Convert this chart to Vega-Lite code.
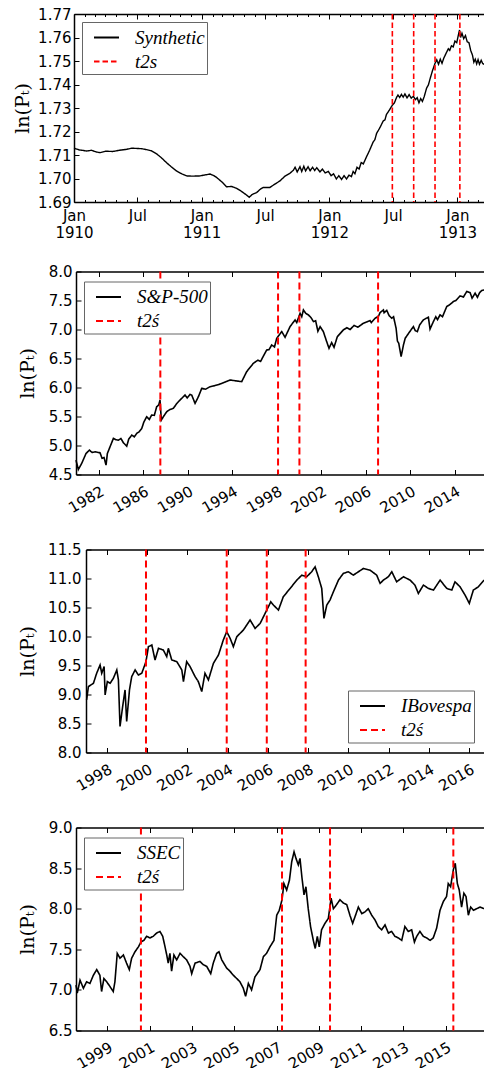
{
  "$schema": "https://vega.github.io/schema/vega-lite/v6.json",
  "padding": {"left": 13, "top": 7, "right": 0, "bottom": 0},
  "spacing": 24.5,
  "resolve": {"scale": {"color": "independent", "strokeDash": "independent", "x": "independent", "y": "independent"}, "legend": {"color": "independent", "strokeDash": "independent"}},
  "config": {
    "view": {"stroke": null},
    "font": "DejaVu Sans",
    "axis": {"domainColor": "black", "domainWidth": 1.5, "tickColor": "black", "tickWidth": 1, "labelFont": "DejaVu Sans", "labelFontSize": 15, "labelColor": "black", "grid": false, "titleFont": "DejaVu Serif", "titleFontSize": 19, "titleFontWeight": "normal", "titleColor": "black", "labelFlush": false, "labelOverlap": false},
    "legend": {"strokeColor": "#666666", "fillColor": "white", "padding": 2, "symbolOffset": 9, "symbolType": "stroke", "symbolSize": 625, "symbolStrokeWidth": 2, "labelFont": "Liberation Serif", "labelFontStyle": "italic", "labelFontSize": 19, "labelColor": "black", "labelOffset": 15, "rowPadding": 0, "cornerRadius": 0}
  },
  "vconcat": [
    {
      "width": 410, "height": 188,
      "resolve": {"axis": {"x": "independent"}},
      "layer": [
        {
          "data": {"values": [
            {"date": "1910-01-01", "v": 1.7129, "series": "Synthetic"},
            {"date": "1910-01-15", "v": 1.7122, "series": "Synthetic"},
            {"date": "1910-02-06", "v": 1.7117, "series": "Synthetic"},
            {"date": "1910-02-20", "v": 1.7120, "series": "Synthetic"},
            {"date": "1910-03-05", "v": 1.7113, "series": "Synthetic"},
            {"date": "1910-03-16", "v": 1.7110, "series": "Synthetic"},
            {"date": "1910-04-01", "v": 1.7116, "series": "Synthetic"},
            {"date": "1910-04-22", "v": 1.7115, "series": "Synthetic"},
            {"date": "1910-05-10", "v": 1.7120, "series": "Synthetic"},
            {"date": "1910-05-31", "v": 1.7124, "series": "Synthetic"},
            {"date": "1910-06-15", "v": 1.7129, "series": "Synthetic"},
            {"date": "1910-06-29", "v": 1.7128, "series": "Synthetic"},
            {"date": "1910-07-12", "v": 1.7127, "series": "Synthetic"},
            {"date": "1910-07-27", "v": 1.7123, "series": "Synthetic"},
            {"date": "1910-08-10", "v": 1.7118, "series": "Synthetic"},
            {"date": "1910-08-25", "v": 1.7105, "series": "Synthetic"},
            {"date": "1910-09-08", "v": 1.7088, "series": "Synthetic"},
            {"date": "1910-09-22", "v": 1.7068, "series": "Synthetic"},
            {"date": "1910-10-06", "v": 1.7050, "series": "Synthetic"},
            {"date": "1910-10-21", "v": 1.7032, "series": "Synthetic"},
            {"date": "1910-11-05", "v": 1.7020, "series": "Synthetic"},
            {"date": "1910-11-19", "v": 1.7011, "series": "Synthetic"},
            {"date": "1910-12-05", "v": 1.7010, "series": "Synthetic"},
            {"date": "1910-12-27", "v": 1.7011, "series": "Synthetic"},
            {"date": "1911-01-10", "v": 1.7015, "series": "Synthetic"},
            {"date": "1911-01-25", "v": 1.7019, "series": "Synthetic"},
            {"date": "1911-02-05", "v": 1.7012, "series": "Synthetic"},
            {"date": "1911-02-13", "v": 1.7004, "series": "Synthetic"},
            {"date": "1911-02-28", "v": 1.6985, "series": "Synthetic"},
            {"date": "1911-03-13", "v": 1.6965, "series": "Synthetic"},
            {"date": "1911-03-28", "v": 1.6966, "series": "Synthetic"},
            {"date": "1911-04-11", "v": 1.6958, "series": "Synthetic"},
            {"date": "1911-04-25", "v": 1.6945, "series": "Synthetic"},
            {"date": "1911-05-09", "v": 1.6930, "series": "Synthetic"},
            {"date": "1911-05-17", "v": 1.6920, "series": "Synthetic"},
            {"date": "1911-05-25", "v": 1.6932, "series": "Synthetic"},
            {"date": "1911-06-07", "v": 1.6940, "series": "Synthetic"},
            {"date": "1911-06-18", "v": 1.6955, "series": "Synthetic"},
            {"date": "1911-06-26", "v": 1.6962, "series": "Synthetic"},
            {"date": "1911-07-15", "v": 1.6962, "series": "Synthetic"},
            {"date": "1911-07-28", "v": 1.6975, "series": "Synthetic"},
            {"date": "1911-08-13", "v": 1.6990, "series": "Synthetic"},
            {"date": "1911-08-27", "v": 1.7010, "series": "Synthetic"},
            {"date": "1911-09-10", "v": 1.7022, "series": "Synthetic"},
            {"date": "1911-09-20", "v": 1.7035, "series": "Synthetic"},
            {"date": "1911-09-25", "v": 1.7048, "series": "Synthetic"},
            {"date": "1911-10-01", "v": 1.7028, "series": "Synthetic"},
            {"date": "1911-10-09", "v": 1.7050, "series": "Synthetic"},
            {"date": "1911-10-14", "v": 1.7030, "series": "Synthetic"},
            {"date": "1911-10-20", "v": 1.7052, "series": "Synthetic"},
            {"date": "1911-10-25", "v": 1.7032, "series": "Synthetic"},
            {"date": "1911-11-01", "v": 1.7050, "series": "Synthetic"},
            {"date": "1911-11-07", "v": 1.7033, "series": "Synthetic"},
            {"date": "1911-11-14", "v": 1.7048, "series": "Synthetic"},
            {"date": "1911-11-20", "v": 1.7034, "series": "Synthetic"},
            {"date": "1911-11-26", "v": 1.7046, "series": "Synthetic"},
            {"date": "1911-12-05", "v": 1.7028, "series": "Synthetic"},
            {"date": "1911-12-12", "v": 1.7040, "series": "Synthetic"},
            {"date": "1911-12-20", "v": 1.7024, "series": "Synthetic"},
            {"date": "1911-12-29", "v": 1.7030, "series": "Synthetic"},
            {"date": "1912-01-06", "v": 1.7012, "series": "Synthetic"},
            {"date": "1912-01-13", "v": 1.7020, "series": "Synthetic"},
            {"date": "1912-01-21", "v": 1.6998, "series": "Synthetic"},
            {"date": "1912-01-28", "v": 1.7012, "series": "Synthetic"},
            {"date": "1912-02-05", "v": 1.6996, "series": "Synthetic"},
            {"date": "1912-02-12", "v": 1.7012, "series": "Synthetic"},
            {"date": "1912-02-19", "v": 1.6998, "series": "Synthetic"},
            {"date": "1912-02-26", "v": 1.7014, "series": "Synthetic"},
            {"date": "1912-03-04", "v": 1.7008, "series": "Synthetic"},
            {"date": "1912-03-09", "v": 1.7030, "series": "Synthetic"},
            {"date": "1912-03-14", "v": 1.7020, "series": "Synthetic"},
            {"date": "1912-03-20", "v": 1.7048, "series": "Synthetic"},
            {"date": "1912-03-26", "v": 1.7040, "series": "Synthetic"},
            {"date": "1912-04-01", "v": 1.7068, "series": "Synthetic"},
            {"date": "1912-04-07", "v": 1.7062, "series": "Synthetic"},
            {"date": "1912-04-16", "v": 1.7092, "series": "Synthetic"},
            {"date": "1912-04-25", "v": 1.7120, "series": "Synthetic"},
            {"date": "1912-05-05", "v": 1.7155, "series": "Synthetic"},
            {"date": "1912-05-10", "v": 1.7165, "series": "Synthetic"},
            {"date": "1912-05-15", "v": 1.7192, "series": "Synthetic"},
            {"date": "1912-05-24", "v": 1.7215, "series": "Synthetic"},
            {"date": "1912-06-03", "v": 1.7245, "series": "Synthetic"},
            {"date": "1912-06-08", "v": 1.7250, "series": "Synthetic"},
            {"date": "1912-06-12", "v": 1.7272, "series": "Synthetic"},
            {"date": "1912-06-20", "v": 1.7290, "series": "Synthetic"},
            {"date": "1912-06-29", "v": 1.7312, "series": "Synthetic"},
            {"date": "1912-07-05", "v": 1.7322, "series": "Synthetic"},
            {"date": "1912-07-11", "v": 1.7345, "series": "Synthetic"},
            {"date": "1912-07-15", "v": 1.7355, "series": "Synthetic"},
            {"date": "1912-07-20", "v": 1.7345, "series": "Synthetic"},
            {"date": "1912-07-25", "v": 1.7358, "series": "Synthetic"},
            {"date": "1912-07-30", "v": 1.7346, "series": "Synthetic"},
            {"date": "1912-08-04", "v": 1.7360, "series": "Synthetic"},
            {"date": "1912-08-10", "v": 1.7343, "series": "Synthetic"},
            {"date": "1912-08-16", "v": 1.7357, "series": "Synthetic"},
            {"date": "1912-08-22", "v": 1.7342, "series": "Synthetic"},
            {"date": "1912-08-28", "v": 1.7350, "series": "Synthetic"},
            {"date": "1912-09-03", "v": 1.7336, "series": "Synthetic"},
            {"date": "1912-09-08", "v": 1.7344, "series": "Synthetic"},
            {"date": "1912-09-13", "v": 1.7322, "series": "Synthetic"},
            {"date": "1912-09-18", "v": 1.7340, "series": "Synthetic"},
            {"date": "1912-09-23", "v": 1.7328, "series": "Synthetic"},
            {"date": "1912-09-28", "v": 1.7348, "series": "Synthetic"},
            {"date": "1912-10-05", "v": 1.7385, "series": "Synthetic"},
            {"date": "1912-10-10", "v": 1.7398, "series": "Synthetic"},
            {"date": "1912-10-15", "v": 1.7425, "series": "Synthetic"},
            {"date": "1912-10-22", "v": 1.7460, "series": "Synthetic"},
            {"date": "1912-10-29", "v": 1.7490, "series": "Synthetic"},
            {"date": "1912-11-03", "v": 1.7505, "series": "Synthetic"},
            {"date": "1912-11-08", "v": 1.7486, "series": "Synthetic"},
            {"date": "1912-11-13", "v": 1.7508, "series": "Synthetic"},
            {"date": "1912-11-18", "v": 1.7490, "series": "Synthetic"},
            {"date": "1912-11-23", "v": 1.7512, "series": "Synthetic"},
            {"date": "1912-12-01", "v": 1.7537, "series": "Synthetic"},
            {"date": "1912-12-06", "v": 1.7552, "series": "Synthetic"},
            {"date": "1912-12-10", "v": 1.7545, "series": "Synthetic"},
            {"date": "1912-12-15", "v": 1.7565, "series": "Synthetic"},
            {"date": "1912-12-20", "v": 1.7560, "series": "Synthetic"},
            {"date": "1912-12-25", "v": 1.7585, "series": "Synthetic"},
            {"date": "1912-12-30", "v": 1.7578, "series": "Synthetic"},
            {"date": "1913-01-04", "v": 1.7612, "series": "Synthetic"},
            {"date": "1913-01-07", "v": 1.7632, "series": "Synthetic"},
            {"date": "1913-01-10", "v": 1.7600, "series": "Synthetic"},
            {"date": "1913-01-14", "v": 1.7618, "series": "Synthetic"},
            {"date": "1913-01-19", "v": 1.7595, "series": "Synthetic"},
            {"date": "1913-01-24", "v": 1.7608, "series": "Synthetic"},
            {"date": "1913-01-29", "v": 1.7582, "series": "Synthetic"},
            {"date": "1913-02-03", "v": 1.7578, "series": "Synthetic"},
            {"date": "1913-02-08", "v": 1.7545, "series": "Synthetic"},
            {"date": "1913-02-13", "v": 1.7525, "series": "Synthetic"},
            {"date": "1913-02-17", "v": 1.7495, "series": "Synthetic"},
            {"date": "1913-02-21", "v": 1.7508, "series": "Synthetic"},
            {"date": "1913-02-25", "v": 1.7488, "series": "Synthetic"},
            {"date": "1913-03-01", "v": 1.7506, "series": "Synthetic"},
            {"date": "1913-03-05", "v": 1.7486, "series": "Synthetic"},
            {"date": "1913-03-10", "v": 1.7503, "series": "Synthetic"},
            {"date": "1913-03-14", "v": 1.7490, "series": "Synthetic"},
            {"date": "1913-03-18", "v": 1.7485, "series": "Synthetic"}
          ]},
          "mark": {"type": "line", "strokeWidth": 1.4},
          "encoding": {
            "x": {"field": "date", "type": "temporal",
              "scale": {"type": "utc", "domain": [{"year": 1910, "month": 1, "date": 1, "utc": true}, {"year": 1913, "month": 3, "date": 18, "utc": true}]},
              "axis": {"orient": "bottom", "title": null, "tickCount": {"interval": "month", "step": 1},
                "tickSize": {"condition": {"test": "utcmonth(datum.value) % 6 == 0", "value": -5}, "value": -2.5},
                "labelPadding": 11, "labelLineHeight": 17, "labelAngle": 0, "labelAlign": "center", "labelBaseline": "top",
                "labelExpr": "utcmonth(datum.value) == 0 ? [utcFormat(datum.value, '%b'), utcFormat(datum.value, '%Y')] : (utcmonth(datum.value) == 6 ? ['Jul', ''] : '')"}},
            "y": {"field": "v", "type": "quantitative",
              "scale": {"domain": [1.69, 1.77], "nice": false, "zero": false},
              "axis": {"title": "ln(Pₜ)", "values": [1.69, 1.70, 1.71, 1.72, 1.73, 1.74, 1.75, 1.76, 1.77], "format": ".2f", "tickSize": -5, "labelPadding": 8, "minExtent": 40, "maxExtent": 40, "titlePadding": 2}},
            "color": {"field": "series", "type": "nominal", "scale": {"domain": ["Synthetic", "t2s"], "range": ["black", "red"]}, "legend": {"title": null, "orient": "top-left", "offset": 8}},
            "strokeDash": {"field": "series", "type": "nominal", "scale": {"domain": ["Synthetic", "t2s"], "range": [[1, 0], [5.5, 3]]}, "legend": {"title": null, "orient": "top-left", "offset": 8}}
          }
        },
        {
          "data": {"values": [
            {"date": "1912-06-29", "series": "t2s"},
            {"date": "1912-08-29", "series": "t2s"},
            {"date": "1912-10-29", "series": "t2s"},
            {"date": "1913-01-08", "series": "t2s"}
          ]},
          "mark": {"type": "rule", "strokeWidth": 1.6},
          "encoding": {
            "x": {"field": "date", "type": "temporal",
              "scale": {"type": "utc", "domain": [{"year": 1910, "month": 1, "date": 1, "utc": true}, {"year": 1913, "month": 3, "date": 18, "utc": true}]},
              "axis": {"orient": "top", "title": null, "labels": false, "tickCount": {"interval": "month", "step": 1},
                "tickSize": {"condition": {"test": "utcmonth(datum.value) % 6 == 0", "value": -5}, "value": -2.5}}},
            "color": {"field": "series", "type": "nominal", "scale": {"domain": ["Synthetic", "t2s"], "range": ["black", "red"]}, "legend": {"title": null, "orient": "top-left", "offset": 8}},
            "strokeDash": {"field": "series", "type": "nominal", "scale": {"domain": ["Synthetic", "t2s"], "range": [[1, 0], [5.5, 3]]}, "legend": {"title": null, "orient": "top-left", "offset": 8}}
          }
        }
      ]
    },
    {
      "spacing": 26,
      "resolve": {"scale": {"color": "independent", "strokeDash": "independent", "x": "independent", "y": "independent"}, "legend": {"color": "independent", "strokeDash": "independent"}},
      "vconcat": [
        {
          "width": 410, "height": 203,
          "resolve": {"axis": {"x": "independent"}},
          "layer": [
            {
              "data": {"values": [
                {"t": 1979.96, "v": 4.747, "series": "S&P-500"},
                {"t": 1980.17, "v": 4.586, "series": "S&P-500"},
                {"t": 1980.47, "v": 4.690, "series": "S&P-500"},
                {"t": 1980.86, "v": 4.862, "series": "S&P-500"},
                {"t": 1981.16, "v": 4.920, "series": "S&P-500"},
                {"t": 1981.40, "v": 4.880, "series": "S&P-500"},
                {"t": 1981.67, "v": 4.891, "series": "S&P-500"},
                {"t": 1982.12, "v": 4.874, "series": "S&P-500"},
                {"t": 1982.30, "v": 4.780, "series": "S&P-500"},
                {"t": 1982.48, "v": 4.793, "series": "S&P-500"},
                {"t": 1982.66, "v": 4.661, "series": "S&P-500"},
                {"t": 1982.78, "v": 4.862, "series": "S&P-500"},
                {"t": 1983.02, "v": 4.978, "series": "S&P-500"},
                {"t": 1983.32, "v": 5.122, "series": "S&P-500"},
                {"t": 1983.55, "v": 5.100, "series": "S&P-500"},
                {"t": 1983.77, "v": 5.093, "series": "S&P-500"},
                {"t": 1984.00, "v": 5.120, "series": "S&P-500"},
                {"t": 1984.22, "v": 5.047, "series": "S&P-500"},
                {"t": 1984.52, "v": 4.989, "series": "S&P-500"},
                {"t": 1984.70, "v": 5.110, "series": "S&P-500"},
                {"t": 1984.97, "v": 5.179, "series": "S&P-500"},
                {"t": 1985.20, "v": 5.150, "series": "S&P-500"},
                {"t": 1985.42, "v": 5.208, "series": "S&P-500"},
                {"t": 1985.65, "v": 5.240, "series": "S&P-500"},
                {"t": 1985.87, "v": 5.294, "series": "S&P-500"},
                {"t": 1986.05, "v": 5.400, "series": "S&P-500"},
                {"t": 1986.31, "v": 5.496, "series": "S&P-500"},
                {"t": 1986.55, "v": 5.450, "series": "S&P-500"},
                {"t": 1986.76, "v": 5.524, "series": "S&P-500"},
                {"t": 1987.00, "v": 5.520, "series": "S&P-500"},
                {"t": 1987.21, "v": 5.668, "series": "S&P-500"},
                {"t": 1987.40, "v": 5.700, "series": "S&P-500"},
                {"t": 1987.51, "v": 5.784, "series": "S&P-500"},
                {"t": 1987.63, "v": 5.438, "series": "S&P-500"},
                {"t": 1987.81, "v": 5.496, "series": "S&P-500"},
                {"t": 1988.11, "v": 5.582, "series": "S&P-500"},
                {"t": 1988.40, "v": 5.620, "series": "S&P-500"},
                {"t": 1988.71, "v": 5.640, "series": "S&P-500"},
                {"t": 1989.00, "v": 5.720, "series": "S&P-500"},
                {"t": 1989.31, "v": 5.784, "series": "S&P-500"},
                {"t": 1989.76, "v": 5.870, "series": "S&P-500"},
                {"t": 1989.95, "v": 5.820, "series": "S&P-500"},
                {"t": 1990.20, "v": 5.880, "series": "S&P-500"},
                {"t": 1990.36, "v": 5.870, "series": "S&P-500"},
                {"t": 1990.66, "v": 5.726, "series": "S&P-500"},
                {"t": 1990.96, "v": 5.841, "series": "S&P-500"},
                {"t": 1991.26, "v": 5.985, "series": "S&P-500"},
                {"t": 1991.60, "v": 5.970, "series": "S&P-500"},
                {"t": 1992.01, "v": 6.014, "series": "S&P-500"},
                {"t": 1992.40, "v": 6.030, "series": "S&P-500"},
                {"t": 1992.91, "v": 6.060, "series": "S&P-500"},
                {"t": 1993.30, "v": 6.090, "series": "S&P-500"},
                {"t": 1993.81, "v": 6.129, "series": "S&P-500"},
                {"t": 1994.25, "v": 6.117, "series": "S&P-500"},
                {"t": 1994.85, "v": 6.100, "series": "S&P-500"},
                {"t": 1995.30, "v": 6.273, "series": "S&P-500"},
                {"t": 1995.90, "v": 6.417, "series": "S&P-500"},
                {"t": 1996.30, "v": 6.470, "series": "S&P-500"},
                {"t": 1996.55, "v": 6.450, "series": "S&P-500"},
                {"t": 1996.80, "v": 6.540, "series": "S&P-500"},
                {"t": 1997.10, "v": 6.647, "series": "S&P-500"},
                {"t": 1997.30, "v": 6.650, "series": "S&P-500"},
                {"t": 1997.55, "v": 6.733, "series": "S&P-500"},
                {"t": 1997.80, "v": 6.700, "series": "S&P-500"},
                {"t": 1998.00, "v": 6.849, "series": "S&P-500"},
                {"t": 1998.45, "v": 6.964, "series": "S&P-500"},
                {"t": 1998.75, "v": 6.866, "series": "S&P-500"},
                {"t": 1999.20, "v": 7.050, "series": "S&P-500"},
                {"t": 1999.65, "v": 7.165, "series": "S&P-500"},
                {"t": 1999.80, "v": 7.120, "series": "S&P-500"},
                {"t": 2000.10, "v": 7.280, "series": "S&P-500"},
                {"t": 2000.25, "v": 7.220, "series": "S&P-500"},
                {"t": 2000.40, "v": 7.338, "series": "S&P-500"},
                {"t": 2000.60, "v": 7.280, "series": "S&P-500"},
                {"t": 2000.85, "v": 7.252, "series": "S&P-500"},
                {"t": 2001.10, "v": 7.200, "series": "S&P-500"},
                {"t": 2001.30, "v": 7.136, "series": "S&P-500"},
                {"t": 2001.50, "v": 7.150, "series": "S&P-500"},
                {"t": 2001.70, "v": 6.970, "series": "S&P-500"},
                {"t": 2001.90, "v": 7.050, "series": "S&P-500"},
                {"t": 2002.19, "v": 6.964, "series": "S&P-500"},
                {"t": 2002.49, "v": 6.791, "series": "S&P-500"},
                {"t": 2002.70, "v": 6.676, "series": "S&P-500"},
                {"t": 2002.94, "v": 6.774, "series": "S&P-500"},
                {"t": 2003.15, "v": 6.693, "series": "S&P-500"},
                {"t": 2003.45, "v": 6.877, "series": "S&P-500"},
                {"t": 2003.99, "v": 6.993, "series": "S&P-500"},
                {"t": 2004.30, "v": 7.030, "series": "S&P-500"},
                {"t": 2004.60, "v": 7.000, "series": "S&P-500"},
                {"t": 2004.95, "v": 7.070, "series": "S&P-500"},
                {"t": 2005.30, "v": 7.040, "series": "S&P-500"},
                {"t": 2005.79, "v": 7.108, "series": "S&P-500"},
                {"t": 2006.39, "v": 7.154, "series": "S&P-500"},
                {"t": 2006.50, "v": 7.120, "series": "S&P-500"},
                {"t": 2006.84, "v": 7.194, "series": "S&P-500"},
                {"t": 2007.15, "v": 7.230, "series": "S&P-500"},
                {"t": 2007.29, "v": 7.292, "series": "S&P-500"},
                {"t": 2007.59, "v": 7.338, "series": "S&P-500"},
                {"t": 2007.65, "v": 7.290, "series": "S&P-500"},
                {"t": 2007.89, "v": 7.330, "series": "S&P-500"},
                {"t": 2008.10, "v": 7.240, "series": "S&P-500"},
                {"t": 2008.34, "v": 7.194, "series": "S&P-500"},
                {"t": 2008.50, "v": 7.220, "series": "S&P-500"},
                {"t": 2008.73, "v": 7.021, "series": "S&P-500"},
                {"t": 2008.85, "v": 6.800, "series": "S&P-500"},
                {"t": 2008.97, "v": 6.762, "series": "S&P-500"},
                {"t": 2009.18, "v": 6.532, "series": "S&P-500"},
                {"t": 2009.39, "v": 6.733, "series": "S&P-500"},
                {"t": 2009.55, "v": 6.850, "series": "S&P-500"},
                {"t": 2009.75, "v": 6.906, "series": "S&P-500"},
                {"t": 2010.28, "v": 7.050, "series": "S&P-500"},
                {"t": 2010.45, "v": 6.980, "series": "S&P-500"},
                {"t": 2010.64, "v": 6.964, "series": "S&P-500"},
                {"t": 2010.85, "v": 7.080, "series": "S&P-500"},
                {"t": 2011.18, "v": 7.165, "series": "S&P-500"},
                {"t": 2011.40, "v": 7.190, "series": "S&P-500"},
                {"t": 2011.63, "v": 7.211, "series": "S&P-500"},
                {"t": 2011.78, "v": 7.007, "series": "S&P-500"},
                {"t": 2012.08, "v": 7.136, "series": "S&P-500"},
                {"t": 2012.30, "v": 7.220, "series": "S&P-500"},
                {"t": 2012.45, "v": 7.170, "series": "S&P-500"},
                {"t": 2012.68, "v": 7.252, "series": "S&P-500"},
                {"t": 2012.90, "v": 7.220, "series": "S&P-500"},
                {"t": 2013.28, "v": 7.396, "series": "S&P-500"},
                {"t": 2013.50, "v": 7.420, "series": "S&P-500"},
                {"t": 2013.88, "v": 7.482, "series": "S&P-500"},
                {"t": 2014.10, "v": 7.500, "series": "S&P-500"},
                {"t": 2014.48, "v": 7.580, "series": "S&P-500"},
                {"t": 2014.78, "v": 7.560, "series": "S&P-500"},
                {"t": 2015.08, "v": 7.655, "series": "S&P-500"},
                {"t": 2015.38, "v": 7.637, "series": "S&P-500"},
                {"t": 2015.56, "v": 7.539, "series": "S&P-500"},
                {"t": 2015.83, "v": 7.626, "series": "S&P-500"},
                {"t": 2016.04, "v": 7.557, "series": "S&P-500"},
                {"t": 2016.25, "v": 7.640, "series": "S&P-500"},
                {"t": 2016.43, "v": 7.672, "series": "S&P-500"},
                {"t": 2016.63, "v": 7.683, "series": "S&P-500"}
              ]},
              "mark": {"type": "line", "strokeWidth": 1.6},
              "encoding": {
                "x": {"field": "t", "type": "quantitative", "scale": {"domain": [1979.96, 2016.63], "range": [2, 410], "nice": false, "zero": false},
                  "axis": {"orient": "bottom", "title": null, "values": [1982, 1986, 1990, 1994, 1998, 2002, 2006, 2010, 2014], "format": "d", "tickSize": -5, "labelPadding": 14, "labelAngle": -30, "labelAlign": "right", "labelBaseline": "top"}},
                "y": {"field": "v", "type": "quantitative", "scale": {"domain": [4.5, 8.0], "nice": false, "zero": false},
                  "axis": {"title": "ln(Pₜ)", "values": [4.5, 5.0, 5.5, 6.0, 6.5, 7.0, 7.5, 8.0], "format": ".1f", "offset": -2, "tickSize": -5, "labelPadding": 9, "minExtent": 37, "maxExtent": 37, "titlePadding": 2}},
                "color": {"field": "series", "type": "nominal", "scale": {"domain": ["S&P-500", "t2ś"], "range": ["black", "red"]}, "legend": {"title": null, "orient": "top-left", "offset": 10}},
                "strokeDash": {"field": "series", "type": "nominal", "scale": {"domain": ["S&P-500", "t2ś"], "range": [[1, 0], [7, 4]]}, "legend": {"title": null, "orient": "top-left", "offset": 10}}
              }
            },
            {
              "data": {"values": [
                {"t": 1987.54, "series": "t2ś"},
                {"t": 1998.12, "series": "t2ś"},
                {"t": 2000.04, "series": "t2ś"},
                {"t": 2007.11, "series": "t2ś"}
              ]},
              "mark": {"type": "rule", "strokeWidth": 2},
              "encoding": {
                "x": {"field": "t", "type": "quantitative", "scale": {"domain": [1979.96, 2016.63], "range": [2, 410], "nice": false, "zero": false},
                  "axis": {"orient": "top", "title": null, "labels": false, "values": [1982, 1986, 1990, 1994, 1998, 2002, 2006, 2010, 2014], "tickSize": -5}},
                "color": {"field": "series", "type": "nominal", "scale": {"domain": ["S&P-500", "t2ś"], "range": ["black", "red"]}, "legend": {"title": null, "orient": "top-left", "offset": 10}},
                "strokeDash": {"field": "series", "type": "nominal", "scale": {"domain": ["S&P-500", "t2ś"], "range": [[1, 0], [7, 4]]}, "legend": {"title": null, "orient": "top-left", "offset": 10}}
              }
            }
          ]
        },
        {
          "width": 410, "height": 203,
          "resolve": {"axis": {"x": "independent"}},
          "layer": [
            {
              "data": {"values": [
                {"t": 1997.00, "v": 8.907, "series": "IBovespa"},
                {"t": 1997.09, "v": 9.136, "series": "IBovespa"},
                {"t": 1997.34, "v": 9.194, "series": "IBovespa"},
                {"t": 1997.50, "v": 9.366, "series": "IBovespa"},
                {"t": 1997.67, "v": 9.509, "series": "IBovespa"},
                {"t": 1997.75, "v": 9.366, "series": "IBovespa"},
                {"t": 1997.87, "v": 9.481, "series": "IBovespa"},
                {"t": 1997.92, "v": 8.993, "series": "IBovespa"},
                {"t": 1998.03, "v": 9.222, "series": "IBovespa"},
                {"t": 1998.17, "v": 9.194, "series": "IBovespa"},
                {"t": 1998.33, "v": 9.280, "series": "IBovespa"},
                {"t": 1998.50, "v": 9.423, "series": "IBovespa"},
                {"t": 1998.58, "v": 9.251, "series": "IBovespa"},
                {"t": 1998.66, "v": 8.448, "series": "IBovespa"},
                {"t": 1998.79, "v": 8.792, "series": "IBovespa"},
                {"t": 1998.91, "v": 9.079, "series": "IBovespa"},
                {"t": 1998.99, "v": 8.534, "series": "IBovespa"},
                {"t": 1999.13, "v": 9.079, "series": "IBovespa"},
                {"t": 1999.24, "v": 9.308, "series": "IBovespa"},
                {"t": 1999.41, "v": 9.423, "series": "IBovespa"},
                {"t": 1999.57, "v": 9.337, "series": "IBovespa"},
                {"t": 1999.74, "v": 9.366, "series": "IBovespa"},
                {"t": 1999.95, "v": 9.567, "series": "IBovespa"},
                {"t": 2000.07, "v": 9.825, "series": "IBovespa"},
                {"t": 2000.24, "v": 9.853, "series": "IBovespa"},
                {"t": 2000.40, "v": 9.595, "series": "IBovespa"},
                {"t": 2000.57, "v": 9.796, "series": "IBovespa"},
                {"t": 2000.81, "v": 9.767, "series": "IBovespa"},
                {"t": 2000.98, "v": 9.653, "series": "IBovespa"},
                {"t": 2001.06, "v": 9.796, "series": "IBovespa"},
                {"t": 2001.23, "v": 9.595, "series": "IBovespa"},
                {"t": 2001.48, "v": 9.567, "series": "IBovespa"},
                {"t": 2001.73, "v": 9.423, "series": "IBovespa"},
                {"t": 2001.81, "v": 9.222, "series": "IBovespa"},
                {"t": 2001.97, "v": 9.567, "series": "IBovespa"},
                {"t": 2002.14, "v": 9.481, "series": "IBovespa"},
                {"t": 2002.39, "v": 9.308, "series": "IBovespa"},
                {"t": 2002.55, "v": 9.222, "series": "IBovespa"},
                {"t": 2002.72, "v": 9.050, "series": "IBovespa"},
                {"t": 2002.88, "v": 9.366, "series": "IBovespa"},
                {"t": 2003.05, "v": 9.251, "series": "IBovespa"},
                {"t": 2003.30, "v": 9.538, "series": "IBovespa"},
                {"t": 2003.55, "v": 9.681, "series": "IBovespa"},
                {"t": 2003.79, "v": 9.939, "series": "IBovespa"},
                {"t": 2003.96, "v": 10.083, "series": "IBovespa"},
                {"t": 2004.13, "v": 9.968, "series": "IBovespa"},
                {"t": 2004.29, "v": 9.825, "series": "IBovespa"},
                {"t": 2004.46, "v": 9.997, "series": "IBovespa"},
                {"t": 2004.79, "v": 10.112, "series": "IBovespa"},
                {"t": 2005.12, "v": 10.284, "series": "IBovespa"},
                {"t": 2005.37, "v": 10.140, "series": "IBovespa"},
                {"t": 2005.62, "v": 10.226, "series": "IBovespa"},
                {"t": 2005.95, "v": 10.456, "series": "IBovespa"},
                {"t": 2006.15, "v": 10.599, "series": "IBovespa"},
                {"t": 2006.28, "v": 10.542, "series": "IBovespa"},
                {"t": 2006.53, "v": 10.456, "series": "IBovespa"},
                {"t": 2006.77, "v": 10.685, "series": "IBovespa"},
                {"t": 2007.11, "v": 10.829, "series": "IBovespa"},
                {"t": 2007.44, "v": 10.972, "series": "IBovespa"},
                {"t": 2007.69, "v": 11.058, "series": "IBovespa"},
                {"t": 2007.93, "v": 11.030, "series": "IBovespa"},
                {"t": 2008.18, "v": 11.116, "series": "IBovespa"},
                {"t": 2008.35, "v": 11.202, "series": "IBovespa"},
                {"t": 2008.51, "v": 11.030, "series": "IBovespa"},
                {"t": 2008.68, "v": 10.829, "series": "IBovespa"},
                {"t": 2008.79, "v": 10.312, "series": "IBovespa"},
                {"t": 2008.93, "v": 10.542, "series": "IBovespa"},
                {"t": 2009.09, "v": 10.628, "series": "IBovespa"},
                {"t": 2009.26, "v": 10.771, "series": "IBovespa"},
                {"t": 2009.51, "v": 10.972, "series": "IBovespa"},
                {"t": 2009.75, "v": 11.087, "series": "IBovespa"},
                {"t": 2010.00, "v": 11.116, "series": "IBovespa"},
                {"t": 2010.25, "v": 11.058, "series": "IBovespa"},
                {"t": 2010.50, "v": 11.116, "series": "IBovespa"},
                {"t": 2010.75, "v": 11.173, "series": "IBovespa"},
                {"t": 2011.08, "v": 11.144, "series": "IBovespa"},
                {"t": 2011.41, "v": 11.058, "series": "IBovespa"},
                {"t": 2011.58, "v": 10.915, "series": "IBovespa"},
                {"t": 2011.74, "v": 10.972, "series": "IBovespa"},
                {"t": 2011.99, "v": 11.030, "series": "IBovespa"},
                {"t": 2012.16, "v": 11.116, "series": "IBovespa"},
                {"t": 2012.40, "v": 10.943, "series": "IBovespa"},
                {"t": 2012.74, "v": 11.030, "series": "IBovespa"},
                {"t": 2013.07, "v": 10.972, "series": "IBovespa"},
                {"t": 2013.31, "v": 10.886, "series": "IBovespa"},
                {"t": 2013.48, "v": 10.743, "series": "IBovespa"},
                {"t": 2013.73, "v": 10.886, "series": "IBovespa"},
                {"t": 2013.98, "v": 10.829, "series": "IBovespa"},
                {"t": 2014.23, "v": 10.800, "series": "IBovespa"},
                {"t": 2014.56, "v": 10.972, "series": "IBovespa"},
                {"t": 2014.89, "v": 10.829, "series": "IBovespa"},
                {"t": 2015.14, "v": 10.800, "series": "IBovespa"},
                {"t": 2015.30, "v": 10.943, "series": "IBovespa"},
                {"t": 2015.55, "v": 10.857, "series": "IBovespa"},
                {"t": 2015.80, "v": 10.714, "series": "IBovespa"},
                {"t": 2016.01, "v": 10.571, "series": "IBovespa"},
                {"t": 2016.21, "v": 10.800, "series": "IBovespa"},
                {"t": 2016.46, "v": 10.857, "series": "IBovespa"},
                {"t": 2016.74, "v": 10.972, "series": "IBovespa"}
              ]},
              "mark": {"type": "line", "strokeWidth": 1.6},
              "encoding": {
                "x": {"field": "t", "type": "quantitative", "scale": {"domain": [1996.97, 2016.74], "range": [12, 410], "nice": false, "zero": false},
                  "axis": {"orient": "bottom", "title": null, "values": [1998, 2000, 2002, 2004, 2006, 2008, 2010, 2012, 2014, 2016], "format": "d", "tickSize": -5, "labelPadding": 14, "labelAngle": -30, "labelAlign": "right", "labelBaseline": "top"}},
                "y": {"field": "v", "type": "quantitative", "scale": {"domain": [8.0, 11.5], "nice": false, "zero": false},
                  "axis": {"title": "ln(Pₜ)", "values": [8.0, 8.5, 9.0, 9.5, 10.0, 10.5, 11.0, 11.5], "format": ".1f", "offset": -12, "tickSize": -5, "labelPadding": 10, "minExtent": 47, "maxExtent": 47, "titlePadding": 2}},
                "color": {"field": "series", "type": "nominal", "scale": {"domain": ["IBovespa", "t2ś"], "range": ["black", "red"]}, "legend": {"title": null, "orient": "bottom-right", "offset": 10}},
                "strokeDash": {"field": "series", "type": "nominal", "scale": {"domain": ["IBovespa", "t2ś"], "range": [[1, 0], [7, 4]]}, "legend": {"title": null, "orient": "bottom-right", "offset": 10}}
              }
            },
            {
              "data": {"values": [
                {"t": 1999.95, "series": "t2ś"},
                {"t": 2003.96, "series": "t2ś"},
                {"t": 2005.95, "series": "t2ś"},
                {"t": 2007.88, "series": "t2ś"}
              ]},
              "mark": {"type": "rule", "strokeWidth": 2},
              "encoding": {
                "x": {"field": "t", "type": "quantitative", "scale": {"domain": [1996.97, 2016.74], "range": [12, 410], "nice": false, "zero": false},
                  "axis": {"orient": "top", "title": null, "labels": false, "values": [1998, 2000, 2002, 2004, 2006, 2008, 2010, 2012, 2014, 2016], "tickSize": -5}},
                "color": {"field": "series", "type": "nominal", "scale": {"domain": ["IBovespa", "t2ś"], "range": ["black", "red"]}, "legend": {"title": null, "orient": "bottom-right", "offset": 10}},
                "strokeDash": {"field": "series", "type": "nominal", "scale": {"domain": ["IBovespa", "t2ś"], "range": [[1, 0], [7, 4]]}, "legend": {"title": null, "orient": "bottom-right", "offset": 10}}
              }
            }
          ]
        },
        {
          "width": 410, "height": 203,
          "resolve": {"axis": {"x": "independent"}},
          "layer": [
            {
              "data": {"values": [
                {"t": 1997.52, "v": 7.06, "series": "SSEC"},
                {"t": 1997.58, "v": 6.96, "series": "SSEC"},
                {"t": 1997.71, "v": 7.12, "series": "SSEC"},
                {"t": 1997.87, "v": 7.02, "series": "SSEC"},
                {"t": 1998.02, "v": 7.10, "series": "SSEC"},
                {"t": 1998.18, "v": 7.08, "series": "SSEC"},
                {"t": 1998.34, "v": 7.18, "series": "SSEC"},
                {"t": 1998.50, "v": 7.25, "series": "SSEC"},
                {"t": 1998.65, "v": 7.18, "series": "SSEC"},
                {"t": 1998.73, "v": 6.98, "series": "SSEC"},
                {"t": 1998.84, "v": 7.14, "series": "SSEC"},
                {"t": 1998.97, "v": 7.10, "series": "SSEC"},
                {"t": 1999.13, "v": 7.04, "series": "SSEC"},
                {"t": 1999.28, "v": 6.98, "series": "SSEC"},
                {"t": 1999.36, "v": 7.10, "series": "SSEC"},
                {"t": 1999.47, "v": 7.45, "series": "SSEC"},
                {"t": 1999.60, "v": 7.39, "series": "SSEC"},
                {"t": 1999.76, "v": 7.43, "series": "SSEC"},
                {"t": 1999.91, "v": 7.33, "series": "SSEC"},
                {"t": 2000.04, "v": 7.25, "series": "SSEC"},
                {"t": 2000.15, "v": 7.39, "series": "SSEC"},
                {"t": 2000.31, "v": 7.47, "series": "SSEC"},
                {"t": 2000.47, "v": 7.53, "series": "SSEC"},
                {"t": 2000.59, "v": 7.59, "series": "SSEC"},
                {"t": 2000.73, "v": 7.61, "series": "SSEC"},
                {"t": 2000.86, "v": 7.66, "series": "SSEC"},
                {"t": 2001.02, "v": 7.64, "series": "SSEC"},
                {"t": 2001.17, "v": 7.66, "series": "SSEC"},
                {"t": 2001.33, "v": 7.70, "series": "SSEC"},
                {"t": 2001.49, "v": 7.72, "series": "SSEC"},
                {"t": 2001.62, "v": 7.66, "series": "SSEC"},
                {"t": 2001.73, "v": 7.53, "series": "SSEC"},
                {"t": 2001.81, "v": 7.43, "series": "SSEC"},
                {"t": 2001.88, "v": 7.33, "series": "SSEC"},
                {"t": 2001.96, "v": 7.45, "series": "SSEC"},
                {"t": 2002.04, "v": 7.23, "series": "SSEC"},
                {"t": 2002.15, "v": 7.43, "series": "SSEC"},
                {"t": 2002.28, "v": 7.37, "series": "SSEC"},
                {"t": 2002.44, "v": 7.45, "series": "SSEC"},
                {"t": 2002.59, "v": 7.41, "series": "SSEC"},
                {"t": 2002.75, "v": 7.37, "series": "SSEC"},
                {"t": 2002.91, "v": 7.29, "series": "SSEC"},
                {"t": 2002.99, "v": 7.20, "series": "SSEC"},
                {"t": 2003.15, "v": 7.33, "series": "SSEC"},
                {"t": 2003.38, "v": 7.35, "series": "SSEC"},
                {"t": 2003.54, "v": 7.31, "series": "SSEC"},
                {"t": 2003.70, "v": 7.29, "series": "SSEC"},
                {"t": 2003.89, "v": 7.20, "series": "SSEC"},
                {"t": 2004.01, "v": 7.33, "series": "SSEC"},
                {"t": 2004.17, "v": 7.45, "series": "SSEC"},
                {"t": 2004.28, "v": 7.47, "series": "SSEC"},
                {"t": 2004.41, "v": 7.37, "series": "SSEC"},
                {"t": 2004.64, "v": 7.27, "series": "SSEC"},
                {"t": 2004.80, "v": 7.23, "series": "SSEC"},
                {"t": 2004.96, "v": 7.18, "series": "SSEC"},
                {"t": 2005.12, "v": 7.14, "series": "SSEC"},
                {"t": 2005.27, "v": 7.10, "series": "SSEC"},
                {"t": 2005.43, "v": 7.02, "series": "SSEC"},
                {"t": 2005.54, "v": 6.92, "series": "SSEC"},
                {"t": 2005.67, "v": 7.08, "series": "SSEC"},
                {"t": 2005.82, "v": 7.00, "series": "SSEC"},
                {"t": 2005.98, "v": 7.16, "series": "SSEC"},
                {"t": 2006.22, "v": 7.25, "series": "SSEC"},
                {"t": 2006.38, "v": 7.41, "series": "SSEC"},
                {"t": 2006.53, "v": 7.45, "series": "SSEC"},
                {"t": 2006.69, "v": 7.53, "series": "SSEC"},
                {"t": 2006.88, "v": 7.61, "series": "SSEC"},
                {"t": 2007.01, "v": 7.92, "series": "SSEC"},
                {"t": 2007.13, "v": 7.98, "series": "SSEC"},
                {"t": 2007.26, "v": 8.11, "series": "SSEC"},
                {"t": 2007.35, "v": 8.31, "series": "SSEC"},
                {"t": 2007.48, "v": 8.23, "series": "SSEC"},
                {"t": 2007.61, "v": 8.35, "series": "SSEC"},
                {"t": 2007.72, "v": 8.58, "series": "SSEC"},
                {"t": 2007.83, "v": 8.70, "series": "SSEC"},
                {"t": 2007.92, "v": 8.62, "series": "SSEC"},
                {"t": 2008.03, "v": 8.54, "series": "SSEC"},
                {"t": 2008.11, "v": 8.62, "series": "SSEC"},
                {"t": 2008.20, "v": 8.39, "series": "SSEC"},
                {"t": 2008.30, "v": 8.17, "series": "SSEC"},
                {"t": 2008.39, "v": 8.27, "series": "SSEC"},
                {"t": 2008.50, "v": 8.00, "series": "SSEC"},
                {"t": 2008.61, "v": 7.78, "series": "SSEC"},
                {"t": 2008.74, "v": 7.61, "series": "SSEC"},
                {"t": 2008.83, "v": 7.51, "series": "SSEC"},
                {"t": 2008.93, "v": 7.66, "series": "SSEC"},
                {"t": 2009.02, "v": 7.53, "series": "SSEC"},
                {"t": 2009.13, "v": 7.74, "series": "SSEC"},
                {"t": 2009.29, "v": 7.82, "series": "SSEC"},
                {"t": 2009.45, "v": 7.88, "series": "SSEC"},
                {"t": 2009.58, "v": 8.13, "series": "SSEC"},
                {"t": 2009.69, "v": 8.00, "series": "SSEC"},
                {"t": 2009.84, "v": 8.05, "series": "SSEC"},
                {"t": 2010.00, "v": 8.11, "series": "SSEC"},
                {"t": 2010.16, "v": 8.07, "series": "SSEC"},
                {"t": 2010.32, "v": 8.05, "series": "SSEC"},
                {"t": 2010.47, "v": 7.92, "series": "SSEC"},
                {"t": 2010.60, "v": 7.82, "series": "SSEC"},
                {"t": 2010.71, "v": 7.90, "series": "SSEC"},
                {"t": 2010.87, "v": 8.02, "series": "SSEC"},
                {"t": 2011.03, "v": 7.94, "series": "SSEC"},
                {"t": 2011.18, "v": 7.96, "series": "SSEC"},
                {"t": 2011.34, "v": 8.00, "series": "SSEC"},
                {"t": 2011.50, "v": 7.92, "series": "SSEC"},
                {"t": 2011.66, "v": 7.86, "series": "SSEC"},
                {"t": 2011.81, "v": 7.78, "series": "SSEC"},
                {"t": 2011.97, "v": 7.74, "series": "SSEC"},
                {"t": 2012.13, "v": 7.80, "series": "SSEC"},
                {"t": 2012.29, "v": 7.70, "series": "SSEC"},
                {"t": 2012.44, "v": 7.72, "series": "SSEC"},
                {"t": 2012.60, "v": 7.66, "series": "SSEC"},
                {"t": 2012.76, "v": 7.64, "series": "SSEC"},
                {"t": 2012.92, "v": 7.61, "series": "SSEC"},
                {"t": 2013.07, "v": 7.78, "series": "SSEC"},
                {"t": 2013.23, "v": 7.72, "series": "SSEC"},
                {"t": 2013.39, "v": 7.74, "series": "SSEC"},
                {"t": 2013.52, "v": 7.59, "series": "SSEC"},
                {"t": 2013.63, "v": 7.66, "series": "SSEC"},
                {"t": 2013.78, "v": 7.72, "series": "SSEC"},
                {"t": 2013.94, "v": 7.66, "series": "SSEC"},
                {"t": 2014.10, "v": 7.64, "series": "SSEC"},
                {"t": 2014.26, "v": 7.61, "series": "SSEC"},
                {"t": 2014.41, "v": 7.64, "series": "SSEC"},
                {"t": 2014.57, "v": 7.76, "series": "SSEC"},
                {"t": 2014.73, "v": 7.98, "series": "SSEC"},
                {"t": 2014.89, "v": 8.09, "series": "SSEC"},
                {"t": 2015.04, "v": 8.15, "series": "SSEC"},
                {"t": 2015.12, "v": 8.31, "series": "SSEC"},
                {"t": 2015.23, "v": 8.27, "series": "SSEC"},
                {"t": 2015.36, "v": 8.48, "series": "SSEC"},
                {"t": 2015.45, "v": 8.56, "series": "SSEC"},
                {"t": 2015.55, "v": 8.31, "series": "SSEC"},
                {"t": 2015.64, "v": 8.23, "series": "SSEC"},
                {"t": 2015.75, "v": 8.02, "series": "SSEC"},
                {"t": 2015.86, "v": 8.19, "series": "SSEC"},
                {"t": 2015.96, "v": 8.15, "series": "SSEC"},
                {"t": 2016.07, "v": 7.92, "series": "SSEC"},
                {"t": 2016.18, "v": 8.02, "series": "SSEC"},
                {"t": 2016.31, "v": 7.98, "series": "SSEC"},
                {"t": 2016.46, "v": 8.00, "series": "SSEC"},
                {"t": 2016.62, "v": 8.02, "series": "SSEC"},
                {"t": 2016.81, "v": 8.00, "series": "SSEC"}
              ]},
              "mark": {"type": "line", "strokeWidth": 1.6},
              "encoding": {
                "x": {"field": "t", "type": "quantitative", "scale": {"domain": [1997.52, 2016.81], "range": [2, 410], "nice": false, "zero": false},
                  "axis": {"orient": "bottom", "title": null, "values": [1999, 2001, 2003, 2005, 2007, 2009, 2011, 2013, 2015], "format": "d", "tickSize": -5, "labelPadding": 14, "labelAngle": -30, "labelAlign": "right", "labelBaseline": "top"}},
                "y": {"field": "v", "type": "quantitative", "scale": {"domain": [6.5, 9.0], "nice": false, "zero": false},
                  "axis": {"title": "ln(Pₜ)", "values": [6.5, 7.0, 7.5, 8.0, 8.5, 9.0], "format": ".1f", "offset": -2, "tickSize": -5, "labelPadding": 9, "minExtent": 37, "maxExtent": 37, "titlePadding": 2}},
                "color": {"field": "series", "type": "nominal", "scale": {"domain": ["SSEC", "t2ś"], "range": ["black", "red"]}, "legend": {"title": null, "orient": "top-left", "offset": 10}},
                "strokeDash": {"field": "series", "type": "nominal", "scale": {"domain": ["SSEC", "t2ś"], "range": [[1, 0], [7, 4]]}, "legend": {"title": null, "orient": "top-left", "offset": 10}}
              }
            },
            {
              "data": {"values": [
                {"t": 2000.59, "series": "t2ś"},
                {"t": 2007.26, "series": "t2ś"},
                {"t": 2009.53, "series": "t2ś"},
                {"t": 2015.36, "series": "t2ś"}
              ]},
              "mark": {"type": "rule", "strokeWidth": 2},
              "encoding": {
                "x": {"field": "t", "type": "quantitative", "scale": {"domain": [1997.52, 2016.81], "range": [2, 410], "nice": false, "zero": false},
                  "axis": {"orient": "top", "title": null, "labels": false, "values": [1999, 2001, 2003, 2005, 2007, 2009, 2011, 2013, 2015], "tickSize": -5}},
                "color": {"field": "series", "type": "nominal", "scale": {"domain": ["SSEC", "t2ś"], "range": ["black", "red"]}, "legend": {"title": null, "orient": "top-left", "offset": 10}},
                "strokeDash": {"field": "series", "type": "nominal", "scale": {"domain": ["SSEC", "t2ś"], "range": [[1, 0], [7, 4]]}, "legend": {"title": null, "orient": "top-left", "offset": 10}}
              }
            }
          ]
        }
      ]
    }
  ]
}
